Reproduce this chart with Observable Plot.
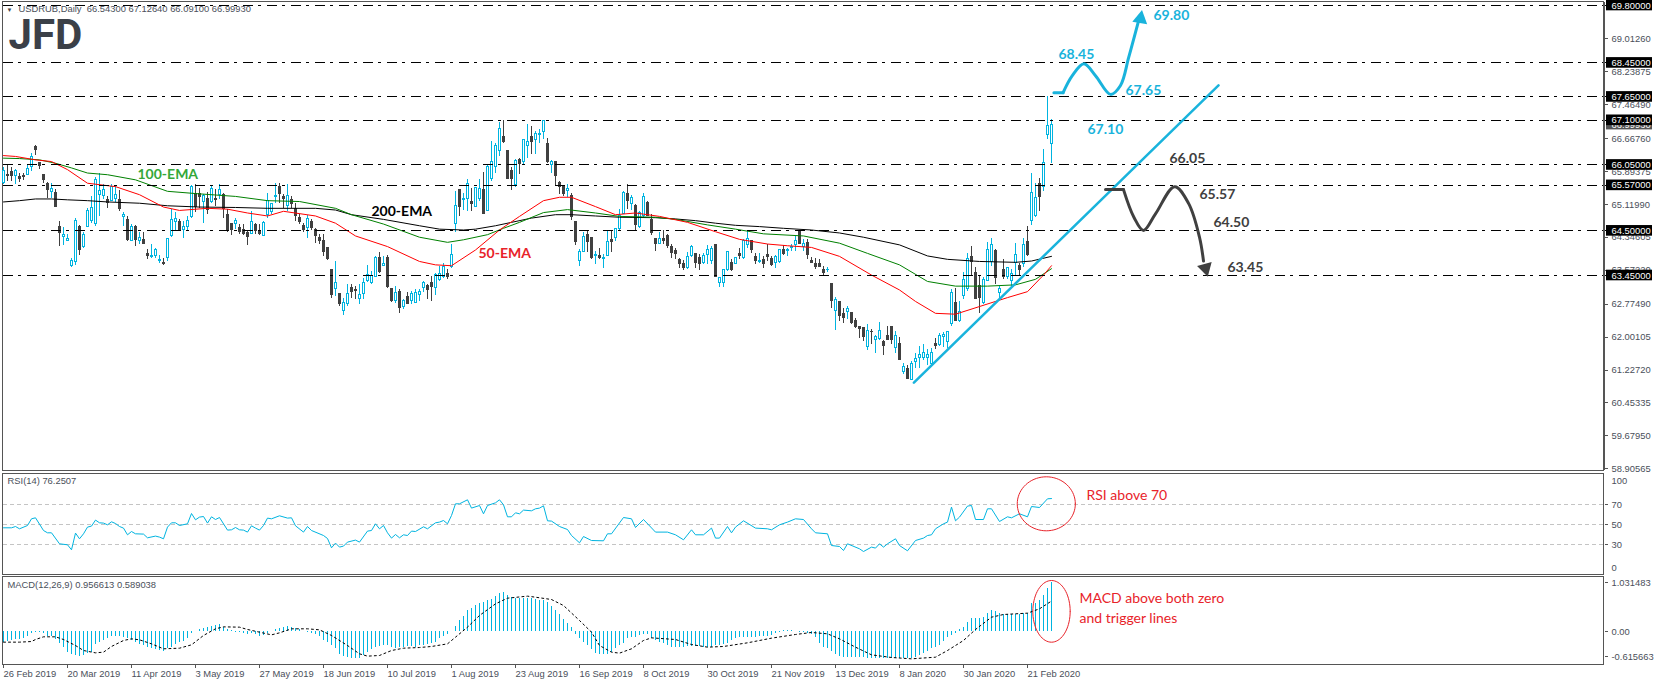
<!DOCTYPE html>
<html>
<head>
<meta charset="utf-8">
<script src="https://cdn.jsdelivr.net/npm/d3@7"></script>
<script src="https://cdn.jsdelivr.net/npm/@observablehq/plot@0.6"></script>
<style>html,body{margin:0;padding:0;background:#fff;overflow:hidden}#chart{position:relative;width:1655px;height:685px}</style>
</head>
<body>
<div id="chart"></div>
<script>
// open, high, low, close per daily bar
const ohlcA = [[65.62,65.98,65.58,65.90],[65.81,66.04,65.66,65.79],[65.88,65.98,65.66,65.80],[65.80,65.95,65.58,65.91],[65.76,65.86,65.64,65.73],[65.78,65.86,65.69,65.76],[65.82,66.05,65.80,65.95],[66.00,66.31,65.90,66.23],[66.48,66.51,66.27,66.39],[66.09,66.11,65.94,66.02],[65.81,65.81,65.62,65.69],[65.61,65.64,65.27,65.47],[65.42,65.61,65.27,65.48],[65.40,65.47,65.06,65.07],[64.59,64.72,64.13,64.46],[64.35,64.59,64.15,64.40],[64.26,64.41,64.25,64.31],[63.68,63.86,63.64,63.79],[63.77,64.80,63.68,64.73],[64.58,64.62,63.93,64.04],[64.12,64.45,64.09,64.40],[64.59,65.03,64.58,64.96],[64.73,65.31,64.68,65.03],[64.67,65.76,64.60,65.70],[65.34,65.86,64.84,65.43],[65.31,65.58,65.23,65.47],[65.23,65.31,65.03,65.15],[65.21,65.60,65.19,65.52],[65.26,65.56,65.17,65.35],[65.23,65.45,64.96,65.01],[64.82,64.94,64.60,64.87],[64.76,64.84,64.25,64.29],[64.27,64.64,64.25,64.59],[64.58,64.62,64.13,64.29],[64.27,64.45,64.17,64.33],[64.28,64.45,64.17,64.19],[63.96,64.07,63.82,63.92],[63.89,64.17,63.86,63.91],[63.90,64.09,63.86,64.05],[63.79,63.93,63.74,63.82],[63.75,63.86,63.68,63.73],[63.85,64.33,63.78,64.31],[64.37,65.01,64.34,64.75],[64.70,64.92,64.48,64.77],[64.70,64.77,64.48,64.52],[64.51,64.72,64.32,64.59],[64.60,64.84,64.48,64.73],[64.82,65.56,64.80,65.53],[65.37,65.58,64.92,65.06],[65.37,65.50,65.03,65.29],[65.19,65.35,64.68,65.33],[65.25,65.40,64.88,64.98],[65.19,65.56,65.15,65.48]];
const ohlcB = [[65.25,65.47,65.07,65.23],[65.35,65.58,65.23,65.45],[65.35,65.39,64.80,65.01],[64.88,65.01,64.46,64.50],[64.66,64.66,64.38,64.51],[64.66,64.80,64.54,64.73],[64.56,64.64,64.41,64.48],[64.52,64.64,64.38,64.43],[64.45,64.51,64.15,64.35],[64.42,64.95,64.41,64.70],[64.64,64.68,64.41,64.50],[64.48,64.66,64.38,64.43],[64.38,64.72,64.37,64.68],[64.88,65.39,64.80,65.21],[64.95,65.15,64.88,65.13],[65.29,65.61,65.14,65.32],[65.52,65.61,65.15,65.37],[65.30,65.35,65.03,65.25],[65.09,65.58,64.96,65.33],[65.22,65.31,65.03,65.13],[65.02,65.15,64.72,64.86],[64.80,64.88,64.64,64.70],[64.62,64.68,64.45,64.52],[64.56,64.85,64.33,64.77],[64.71,64.76,64.52,64.56],[64.52,64.56,64.21,64.37],[64.33,64.41,64.17,64.25],[64.26,64.41,63.90,64.01],[64.09,64.11,63.80,63.84],[63.57,63.60,62.91,62.99],[63.13,63.79,62.95,63.27],[63.02,63.03,62.73,62.78],[62.62,62.91,62.52,62.81],[62.78,63.25,62.72,63.01],[63.15,63.23,62.91,63.07],[63.11,63.19,62.88,63.09],[62.89,63.23,62.76,62.98],[63.01,63.39,62.88,63.28],[63.31,63.68,63.28,63.47],[63.28,63.54,63.25,63.44],[63.42,63.90,63.42,63.86],[63.86,64.00,63.50,63.54],[63.68,63.90,63.66,63.71],[63.86,63.93,63.15,63.19],[63.13,63.15,62.81,62.84],[62.84,63.19,62.80,63.03],[63.06,63.11,62.56,62.68],[62.72,62.88,62.64,62.84],[62.95,63.05,62.76,62.78],[62.84,63.07,62.76,63.02],[62.81,63.11,62.78,63.03],[62.99,63.11,62.84,63.07]];
const ohlcC = [[63.15,63.31,63.05,63.27],[63.20,63.23,62.88,63.11],[63.27,63.42,62.84,63.17],[63.15,63.50,62.99,63.46],[63.35,63.66,63.31,63.49],[63.41,63.74,63.39,63.64],[63.49,63.58,63.35,63.42],[63.64,64.17,63.62,63.93],[64.66,65.43,64.46,65.08],[65.45,65.47,64.84,65.07],[65.22,65.39,64.99,65.24],[65.25,65.70,64.96,65.60],[65.18,65.50,64.96,65.14],[65.06,65.53,65.04,65.51],[65.25,65.70,65.19,65.48],[65.45,65.87,64.88,64.90],[64.96,66.05,64.96,66.00],[65.72,66.59,65.66,66.12],[66.00,66.56,65.86,66.50],[66.38,67.05,66.25,66.89],[66.71,67.10,66.56,66.58],[66.38,66.38,65.72,65.72],[65.90,65.98,65.45,65.72],[65.58,66.17,65.53,66.14],[66.17,66.20,65.82,66.07],[66.13,66.66,66.05,66.63],[66.49,67.00,66.21,66.60],[66.71,66.96,66.29,66.58],[66.63,66.84,66.29,66.78],[66.75,66.88,66.56,66.78],[66.82,67.10,66.64,67.08],[66.54,66.68,66.09,66.13],[66.05,66.15,65.86,66.13],[66.13,66.14,65.56,65.78],[65.62,65.66,65.35,65.52],[65.53,65.56,65.31,65.36],[65.43,65.58,65.29,65.48],[65.32,65.39,64.74,64.82],[64.70,64.71,64.15,64.23],[63.78,64.05,63.66,64.00],[64.01,64.45,63.99,64.35],[64.41,64.51,63.99,64.23],[64.33,64.33,63.83,63.87],[63.91,64.01,63.70,63.93],[63.90,64.09,63.83,63.86],[63.83,63.94,63.62,63.85],[63.92,64.51,63.90,64.24],[64.28,64.51,63.99,64.24],[64.33,64.56,64.25,64.54],[64.55,65.01,64.52,64.86],[64.90,65.43,64.88,65.40],[65.36,65.58,65.01,65.21],[65.14,65.32,64.98,65.27]];
const ohlcD = [[65.08,65.11,64.52,64.64],[64.60,64.96,64.56,64.92],[64.84,65.37,64.82,65.29],[65.16,65.19,64.84,64.85],[64.76,64.88,64.38,64.46],[64.30,64.33,64.01,64.20],[64.20,64.45,64.17,64.30],[64.30,64.52,64.17,64.26],[64.38,64.41,64.09,64.15],[64.13,64.17,63.86,63.99],[64.03,64.08,63.83,63.96],[63.82,63.86,63.62,63.73],[63.72,63.80,63.57,63.62],[63.62,63.99,63.60,63.88],[63.90,64.15,63.88,64.11],[63.96,63.97,63.62,63.74],[63.86,63.94,63.57,63.71],[63.75,63.97,63.72,63.91],[63.94,64.15,63.70,64.05],[63.80,64.13,63.70,64.07],[64.17,64.17,63.40,63.41],[63.27,63.41,63.17,63.39],[63.28,63.60,63.17,63.57],[63.57,64.01,63.54,64.00],[63.74,63.83,63.54,63.57],[63.73,63.88,63.70,63.86],[63.96,64.09,63.83,63.90],[63.85,64.29,63.82,64.26],[64.17,64.48,64.09,64.30],[64.25,64.27,63.97,64.05],[63.88,63.97,63.70,63.78],[63.77,63.96,63.74,63.79],[63.82,63.90,63.62,63.72],[63.93,64.17,63.78,63.88],[63.83,63.90,63.66,63.70],[63.74,63.93,63.62,63.89],[63.76,64.06,63.74,64.04],[64.05,64.15,63.93,63.96],[64.02,64.09,63.90,64.05],[64.09,64.17,64.01,64.12],[64.16,64.37,64.01,64.26],[64.47,64.52,64.17,64.20],[64.13,64.30,64.01,64.20],[64.21,64.29,63.83,63.94],[63.79,63.87,63.74,63.75],[63.72,63.86,63.60,63.64],[63.72,63.82,63.63,63.66],[63.58,63.66,63.46,63.51],[63.57,63.64,63.52,63.58]];
const ohlcE = [[63.25,63.27,62.68,62.84],[62.61,62.94,62.15,62.88],[62.83,62.84,62.37,62.50],[62.55,62.68,62.33,62.44],[62.58,62.73,62.42,62.66],[62.56,62.58,62.29,62.33],[62.39,62.44,62.21,62.23],[62.25,62.26,61.97,62.18],[62.21,62.23,61.89,62.00],[61.78,62.29,61.68,62.14],[62.13,62.17,61.82,62.11],[61.93,62.03,61.62,62.00],[61.96,62.34,61.93,62.14],[61.89,61.92,61.56,61.79],[62.03,62.26,61.92,61.93],[62.25,62.26,61.82,61.93],[61.74,62.13,61.62,62.03],[61.84,62.00,61.45,61.46],[61.19,61.38,61.11,61.30],[61.24,61.34,61.00,61.01],[60.99,61.42,60.98,61.37],[61.42,61.62,61.26,61.48],[61.52,61.79,61.26,61.57],[61.50,61.82,61.46,61.63],[61.52,61.70,61.34,61.58],[61.38,61.74,61.30,61.62],[61.85,61.97,61.70,61.79],[61.82,62.09,61.78,62.03],[62.00,62.11,61.76,62.05],[61.89,62.13,61.74,62.11],[62.31,63.13,62.26,63.03],[62.81,63.15,62.37,62.39],[62.37,62.84,62.34,62.60],[62.97,63.52,62.89,63.35],[63.13,63.96,63.07,63.83],[63.88,64.13,63.42,63.77],[63.52,63.64,62.88,62.90],[63.20,63.42,62.55,62.93],[62.81,63.40,62.77,63.34],[63.33,64.23,63.31,64.05],[63.76,64.31,63.66,64.16],[64.02,64.07,63.25,63.38],[63.03,63.20,62.88,63.13],[63.58,63.82,63.35,63.42],[63.42,63.64,63.36,63.62],[63.31,63.58,63.19,63.48],[63.74,64.21,63.46,63.93],[63.68,63.74,63.44,63.57],[63.71,64.31,63.64,64.16],[64.24,64.60,63.90,63.94],[64.74,65.84,64.62,65.39],[64.84,65.61,64.82,65.27],[65.61,65.72,64.95,65.29],[65.54,66.42,65.43,66.09],[66.75,67.65,66.64,66.97],[66.543,67.1264,66.091,66.9993]];

// moving averages: [bar, value]
const ema200 = [[0,65.18],[4,65.21],[8,65.25],[12,65.25],[16,65.23],[21,65.21],[26,65.18],[34,65.15],[41,65.09],[49,65.06],[58,65.05],[66,65.03],[78,65.03],[83,64.99],[87,64.88],[95,64.77],[104,64.62],[109,64.54],[115,64.52],[118,64.54],[123,64.62],[127,64.70],[132,64.80],[138,64.88],[142,64.88],[148,64.85],[154,64.82],[163,64.81],[168,64.78],[173,64.74],[178,64.68],[183,64.63],[189,64.60],[195,64.56],[202,64.52],[209,64.45],[215,64.35],[224,64.17],[231,63.91],[236,63.83],[244,63.78],[253,63.76],[257,63.79],[262,63.90]];
const ema100 = [[0,66.21],[4,66.20],[9,66.17],[13,66.09],[17,65.98],[21,65.86],[26,65.82],[33,65.70],[41,65.43],[49,65.37],[58,65.31],[66,65.21],[74,65.19],[83,65.03],[87,64.88],[95,64.66],[104,64.35],[111,64.23],[115,64.29],[121,64.41],[125,64.56],[129,64.70],[135,64.93],[141,65.00],[148,64.92],[154,64.84],[163,64.82],[168,64.77],[176,64.64],[183,64.54],[190,64.43],[200,64.38],[209,64.21],[216,63.97],[224,63.70],[231,63.31],[238,63.20],[246,63.20],[253,63.23],[258,63.36],[262,63.61]];
const ema50 = [[0,66.27],[3,66.25],[8,66.17],[12,66.13],[16,65.94],[21,65.62],[28,65.54],[34,65.35],[40,65.06],[44,64.98],[51,65.03],[56,65.01],[61,64.92],[66,64.85],[70,64.96],[78,64.85],[83,64.68],[88,64.38],[96,64.13],[104,63.78],[108,63.70],[112,63.68],[118,64.05],[124,64.52],[129,64.84],[135,65.21],[139,65.29],[142,65.29],[148,65.07],[153,64.88],[158,64.92],[164,64.84],[171,64.70],[178,64.48],[184,64.30],[191,64.19],[196,64.15],[202,64.11],[209,63.90],[217,63.46],[224,63.11],[228,62.84],[233,62.56],[238,62.54],[244,62.72],[251,62.93],[256,63.07],[260,63.46],[262,63.68]];

// RSI(14): [bar, value]
const rsiPoints = [[0,47],[2,47],[3,48.3],[4,46],[6,49.3],[7,56],[8,57],[10,44.3],[11,42],[12,42],[14,31],[16,30],[17,25],[18,41.7],[19,36],[20,41],[21,47.7],[22,48.7],[23,54.7],[24,52],[25,51.7],[26,50],[27,53],[28,51.3],[29,48.3],[30,46.7],[31,40],[32,43.3],[33,41],[35,40.7],[36,37],[38,38.7],[39,37.7],[40,36],[41,47.7],[42,52],[43,52],[44,49.3],[46,51],[47,61.3],[48,55],[49,57.7],[50,58.3],[51,51.7],[52,58],[53,55.3],[54,57.3],[56,44.7],[57,45],[58,47.3],[59,45],[60,44.7],[61,42.7],[62,49],[63,46.7],[64,44.7],[65,49.3],[66,56.7],[67,56],[69,59],[71,56.7],[72,57],[73,49],[75,42.7],[76,48.3],[77,44.3],[80,39.3],[81,36.3],[82,27],[83,31.7],[84,27.7],[85,28.7],[86,32.7],[88,34.7],[89,32.7],[91,43.7],[92,44.3],[93,51],[94,46],[95,49.3],[96,42],[97,36.7],[98,40.3],[99,37],[100,40],[101,39.3],[102,43.7],[103,43.3],[105,48],[106,46],[108,52],[109,52.7],[110,54.3],[111,51],[112,59.3],[113,71],[114,71],[116,75],[117,66.7],[119,69.3],[120,61],[121,69.3],[123,72],[124,75],[125,70],[126,58],[127,58],[128,62],[129,61],[130,64.7],[132,64],[133,66],[134,66.7],[135,69],[136,54],[137,53.7],[139,48.3],[141,45.3],[142,39.3],[144,32],[145,38.3],[147,34.3],[150,34],[151,41],[152,41],[155,57.3],[157,56],[158,47.3],[160,55.3],[163,42.7],[166,42.7],[168,40],[170,35],[172,45],[173,40],[175,40],[177,46.7],[178,36.7],[179,36.7],[181,48.3],[182,42],[183,47.7],[185,54],[188,46.7],[191,46],[192,45],[194,50],[196,52.7],[198,56],[200,55.3],[202,46],[203,42],[206,41],[207,29.3],[209,28.3],[210,24.3],[211,31],[214,26],[215,23.3],[217,27.7],[218,26.7],[219,31],[220,27.7],[221,31],[223,36],[224,29.3],[226,24],[228,34.3],[230,36.7],[231,39.3],[232,40],[233,46],[235,51],[236,52.7],[237,67.7],[238,54],[239,57.7],[241,68.7],[242,69.3],[243,55.3],[245,55.3],[246,66],[247,66],[249,53.3],[251,58],[252,57],[254,61],[256,58],[257,68.3],[259,67.3],[261,76],[262,76.25]];

// MACD(12,26,9): histogram per bar, signal line as [bar, value]
const macdHistA = [-.206,-.194,-.174,-.155,-.161,-.129,-.09,-.045,-.026,-.019,-.045,-.09,-.09,-.155,-.239,-.31,-.413,-.452,-.464,-.477,-.464,-.432,-.40,-.258,-.206,-.174,-.142,-.103,-.09,-.097,-.11,-.129,-.174,-.206,-.252,-.271,-.303,-.335,-.348,-.368,-.387,-.335,-.303,-.258,-.206,-.187,-.142,-.045,0,.032,.052,.071,.097,.116,.129,.084,.039,.013,-.013,-.026,-.032,-.065,-.045,-.065,-.09,-.077,-.032,0,.032,.065,.084,.097,.084,.065,.039,.006,-.013,-.032,-.065,-.09,-.174,-.206,-.271,-.335,-.452,-.477,-.51,-.516,-.516,-.516];
const macdHistB = [-.464,-.413,-.348,-.303,-.29,-.271,-.271,-.303,-.323,-.303,-.303,-.29,-.29,-.303,-.271,-.271,-.258,-.239,-.206,-.142,-.09,-.065,0,.103,.213,.297,.406,.452,.503,.535,.568,.60,.619,.677,.729,.761,.697,.664,.632,.645,.632,.632,.632,.619,.60,.60,.555,.484,.406,.323,.232,.148,.071,-.065,-.129,-.206,-.271,-.348,-.432,-.452,-.452,-.452,-.40,-.335,-.271,-.239,-.142,-.123,-.11,-.077,-.052,-.065,-.129,-.174,-.206,-.239,-.271,-.303,-.303,-.303,-.303,-.284,-.29,-.29,-.297,-.303,-.303,-.303];
const macdHistC = [-.271,-.271,-.258,-.239,-.174,-.142,-.123,-.11,-.11,-.11,-.11,-.103,-.097,-.09,-.077,-.045,-.013,.01,.01,.01,-.006,-.013,-.026,-.045,-.065,-.11,-.239,-.303,-.335,-.387,-.452,-.484,-.497,-.497,-.497,-.497,-.503,-.51,-.516,-.529,-.529,-.529,-.529,-.529,-.529,-.529,-.529,-.529,-.529,-.516,-.497,-.464,-.432,-.387,-.335,-.303,-.271,-.194,-.11,-.077,-.045,.039,.084,.168,.258,.245,.258,.277,.342,.406,.387,.342,.323,.323,.323,.323,.323,.342,.355,.535,.535,.60,.697,.839,.9566];
const macdSignal = [[0,-.206],[4,-.206],[7,-.194],[8,-.155],[10,-.103],[13,-.103],[15,-.155],[18,-.271],[20,-.368],[23,-.413],[25,-.40],[27,-.29],[30,-.174],[32,-.142],[34,-.161],[37,-.239],[40,-.335],[44,-.323],[47,-.258],[50,-.077],[53,.052],[55,.09],[59,.084],[61,.039],[64,-.013],[67,-.065],[69,-.026],[72,.052],[76,.052],[79,.032],[82,-.077],[86,-.271],[89,-.432],[91,-.477],[94,-.464],[97,-.368],[100,-.323],[104,-.31],[107,-.29],[111,-.239],[113,-.11],[116,.084],[119,.31],[123,.535],[126,.645],[131,.684],[133,.664],[137,.619],[140,.503],[144,.213],[147,-.013],[149,-.271],[152,-.40],[154,-.419],[157,-.335],[160,-.174],[162,-.123],[168,-.155],[172,-.252],[176,-.303],[180,-.29],[186,-.219],[192,-.129],[198,-.058],[202,-.019],[206,-.045],[209,-.142],[213,-.303],[217,-.452],[222,-.503],[227,-.529],[233,-.497],[236,-.368],[240,-.174],[243,.039],[247,.277],[250,.329],[256,.355],[259,.439],[262,.589]];

// levels, axis and labels
const levels = [69.80,68.45,67.65,67.10,66.05,65.57,64.50,63.45];
const priceTicks = [69.0126,68.23875,67.4649,66.6676,65.89375,65.1199,64.34605,63.5722,62.7749,62.00105,61.2272,60.45335,59.6795,58.90565];
const lastPrice = 66.9993;
const dateLabels = ["26 Feb 2019","20 Mar 2019","11 Apr 2019","3 May 2019","27 May 2019","18 Jun 2019","10 Jul 2019","1 Aug 2019","23 Aug 2019","16 Sep 2019","8 Oct 2019","30 Oct 2019","21 Nov 2019","13 Dec 2019","8 Jan 2020","30 Jan 2020","21 Feb 2020"];
const barsPerDateLabel = 16;
const rsiLevels = [70,50,30];
const rsiLabels = [["100",94],["70",70],["50",50],["30",30],["0",7]];
const macdLabels = [["1.031483",0.94],["0.00",0],["-0.615663",-0.49]];

// drawn scenario paths, trend line and notes: [bar, price]
const trendLine = [[227.6,60.93],[303.75,67.92]];
const bluePath = [[262.6,67.75],[264.9,67.75]];
const bluePathCurve = [[264.9,67.75],[267.2,68.15],[270.1,68.43],[273,68.15],[276.75,67.71],[279.25,67.92],[281.3,68.58],[283.8,69.45]];
const blackPath = [[275.5,65.47],[280,65.47]];
const blackPathCurve = [[280,65.47],[282.6,64.82],[285,64.51],[288,64.9],[292.8,65.54],[296.3,65.14],[299,64.35],[300,63.79]];
const arrowHeads = [[284.25,69.49,10,"#19b3dc"],[300.5,63.62,165,"#404040"]];
const blueNotes = [["69.80",287.5,69.56],["68.45",263.75,68.65],["67.65",280.5,67.80],["67.10",271,66.88]];
const darkNotes = [["66.05",291.5,66.20],["65.57",299,65.35],["64.50",302.5,64.70],["63.45",306,63.64]];
const rsiEllipse = {bar:260.7, value:71, rx:7.26, ry:27};
const macdEllipse = {bar:262, value:0.39, rx:4.67, ry:0.597};

const bars = [...ohlcA,...ohlcB,...ohlcC,...ohlcD,...ohlcE].map(([o,h,l,c],i)=>({i,o,h,l,c,up:c>=o}));
const macdHist = [...macdHistA,...macdHistB,...macdHistC];

const BLUE="#00b4e0", DARK="#404040", AXIS="#555", TXT="#4a4f5a", RED="#e8232a";
const AX="Liberation Sans", NOTE="Lato";
const xScale = {type:"linear",domain:[-0.125,413],range:[2.5,1655],axis:null};
const mount = document.getElementById("chart");
function panel(top,height,y,marks){
  const svg = Plot.plot({width:1655,height,margin:0,x:xScale,y:{...y,axis:null},
    style:{position:"absolute",left:"0px",top:top+"px",background:"transparent",overflow:"visible"},marks});
  mount.appendChild(svg);
}
const crisp={shapeRendering:"crispEdges"};
function frame(y1,y2){return Plot.rect([{}],{x1:-0.25,x2:400.125,y1,y2,fill:"none",stroke:AXIS,strokeWidth:1,...crisp});}
function ellipse(e){
  return Array.from({length:73},(_,k)=>[e.bar+e.rx*Math.cos(k/36*Math.PI),e.value+e.ry*Math.sin(k/36*Math.PI)]);
}
const px=d=>d[0], py=d=>d[1];

panel(0,473,{domain:[58.84,69.918],range:[471,0]},[
  frame(58.86,69.871),
  // candles
  Plot.ruleX(bars,{x:"i",y1:"l",y2:"h",stroke:d=>d.up?BLUE:DARK,strokeWidth:1,...crisp}),
  Plot.rect(bars.filter(d=>d.up),{x1:d=>d.i-0.25,x2:d=>d.i+0.25,y1:"o",y2:"c",fill:"#fff",stroke:BLUE,strokeWidth:1,...crisp}),
  Plot.rect(bars.filter(d=>!d.up),{x1:d=>d.i-0.25,x2:d=>d.i+0.25,y1:"o",y2:"c",fill:DARK,stroke:DARK,strokeWidth:1,...crisp}),
  // EMAs
  Plot.line(ema200,{x:px,y:py,stroke:"#000",strokeWidth:1}),
  Plot.line(ema100,{x:px,y:py,stroke:"#008000",strokeWidth:1}),
  Plot.line(ema50,{x:px,y:py,stroke:"#ff0000",strokeWidth:1}),
  // levels
  Plot.ruleY(levels,{x1:0,x2:400,stroke:"#000",strokeWidth:1,strokeDasharray:"10,5,3,6",...crisp}),
  // axis
  Plot.ruleX([400.125],{y1:58.86,y2:69.871,stroke:AXIS,...crisp}),
  Plot.link(priceTicks,{x1:400.25,x2:401,y1:d=>d,y2:d=>d,stroke:AXIS,...crisp}),
  Plot.text(priceTicks,{x:402,y:d=>d,text:d=>d.toFixed(5),textAnchor:"start",fontFamily:AX,fontSize:9.4,fill:TXT}),
  Plot.rect([lastPrice],{x1:400.75,x2:412.25,y1:d=>d-0.125,y2:d=>d+0.125,fill:"#555"}),
  Plot.text([lastPrice],{x:402,y:d=>d,text:d=>d.toFixed(5),textAnchor:"start",fontFamily:AX,fontSize:9.4,fill:"#fff"}),
  Plot.link(levels,{x1:400.25,x2:401,y1:d=>d,y2:d=>d,stroke:"#000",...crisp}),
  Plot.rect(levels,{x1:400.75,x2:412.25,y1:d=>d-0.125,y2:d=>d+0.125,fill:"#000"}),
  Plot.text(levels,{x:402,y:d=>d,text:d=>d.toFixed(5),textAnchor:"start",fontFamily:AX,fontSize:9.4,fill:"#fff"}),
  // scenario drawings
  Plot.line(trendLine,{x:px,y:py,stroke:"#19b3dc",strokeWidth:2.5}),
  Plot.line(bluePath,{x:px,y:py,stroke:"#19b3dc",strokeWidth:3}),
  Plot.line(bluePathCurve,{x:px,y:py,stroke:"#19b3dc",strokeWidth:3,curve:"catmull-rom"}),
  Plot.line(blackPath,{x:px,y:py,stroke:DARK,strokeWidth:3}),
  Plot.line(blackPathCurve,{x:px,y:py,stroke:DARK,strokeWidth:3,curve:"catmull-rom"}),
  Plot.dot(arrowHeads,{x:d=>d[0],y:d=>d[1],rotate:d=>d[2],fill:d=>d[3],stroke:"none",symbol:"triangle",r:5.6}),
  Plot.text(blueNotes,{x:d=>d[1],y:d=>d[2],text:d=>d[0],textAnchor:"start",fontFamily:NOTE,fontWeight:700,fontSize:14,fill:"#19b3dc"}),
  Plot.text(darkNotes,{x:d=>d[1],y:d=>d[2],text:d=>d[0],textAnchor:"start",fontFamily:NOTE,fontWeight:700,fontSize:14,fill:DARK}),
  Plot.text(["100-EMA"],{x:33.5,y:65.83,textAnchor:"start",fontFamily:NOTE,fontWeight:700,fontSize:14,fill:"#35a838"}),
  Plot.text(["200-EMA"],{x:92,y:64.95,textAnchor:"start",fontFamily:NOTE,fontWeight:700,fontSize:14,fill:"#000"}),
  Plot.text(["50-EMA"],{x:118.75,y:63.97,textAnchor:"start",fontFamily:NOTE,fontWeight:700,fontSize:14,fill:RED}),
  // header and logo
  Plot.text(["\u25BC"],{frameAnchor:"top-left",dx:6,dy:7,fontSize:6,textAnchor:"start",fill:"#444"}),
  Plot.text(["USDRUB,Daily  66.54300 67.12640 66.09100 66.99930"],{frameAnchor:"top-left",dx:18,dy:5,textAnchor:"start",fontFamily:AX,fontSize:9.4,fill:TXT,style:"white-space:pre"}),
  Plot.text(["JFD"],{frameAnchor:"top-left",dx:8,dy:19,textAnchor:"start",fontFamily:"Roboto",fontWeight:700,fontSize:42,fill:"#3b4048"})
]);

panel(472,103,{domain:[0,100],range:[102.3,2.3]},[
  frame(-0.2,100.8),
  Plot.ruleY(rsiLevels,{x1:0,x2:400,stroke:"#c4c4c4",strokeDasharray:"4,3",...crisp}),
  Plot.line(rsiPoints,{x:px,y:py,stroke:BLUE,strokeWidth:1}),
  Plot.link(rsiLevels,{x1:400.25,x2:401,y1:d=>d,y2:d=>d,stroke:AXIS,...crisp}),
  Plot.text(rsiLabels,{x:402,y:d=>d[1],text:d=>d[0],textAnchor:"start",fontFamily:AX,fontSize:9.4,fill:TXT}),
  Plot.line(ellipse(rsiEllipse),{x:px,y:py,stroke:RED,strokeWidth:1}),
  Plot.text(["RSI above 70"],{x:270.75,y:79.5,textAnchor:"start",fontFamily:NOTE,fontSize:14,fill:RED}),
  Plot.text(["RSI(14) 76.2507"],{frameAnchor:"top-left",dx:7,dy:5,textAnchor:"start",fontFamily:AX,fontSize:9.4,fill:TXT})
]);

panel(574,111,{domain:[-1,1],range:[108.67,5.33]},[
  frame(-0.648,1.055),
  Plot.ruleX(macdHist,{x:(d,i)=>i,y1:0,y2:d=>d,stroke:BLUE,strokeWidth:1,...crisp}),
  Plot.line(macdSignal,{x:px,y:py,stroke:"#000",strokeWidth:1,strokeDasharray:"2,3"}),
  Plot.link(macdLabels,{x1:400.25,x2:401,y1:d=>d[1],y2:d=>d[1],stroke:AXIS,...crisp}),
  Plot.text(macdLabels,{x:402,y:d=>d[1],text:d=>d[0],textAnchor:"start",fontFamily:AX,fontSize:9.4,fill:TXT}),
  Plot.line(ellipse(macdEllipse),{x:px,y:py,stroke:RED,strokeWidth:1}),
  Plot.text(["MACD above both zero"],{x:269,y:0.64,textAnchor:"start",fontFamily:NOTE,fontSize:14,fill:RED}),
  Plot.text(["and trigger lines"],{x:269,y:0.26,textAnchor:"start",fontFamily:NOTE,fontSize:14,fill:RED}),
  Plot.text(["MACD(12,26,9) 0.956613 0.589038"],{frameAnchor:"top-left",dx:7,dy:7,textAnchor:"start",fontFamily:AX,fontSize:9.4,fill:TXT}),
  Plot.ruleX(dateLabels,{x:(d,i)=>i*barsPerDateLabel,y1:-0.648,y2:-0.71,stroke:AXIS,...crisp}),
  Plot.text(dateLabels,{x:(d,i)=>i*barsPerDateLabel,y:-0.83,text:d=>d,textAnchor:"start",fontFamily:AX,fontSize:9.4,fill:TXT})
]);
</script>
</body>
</html>
